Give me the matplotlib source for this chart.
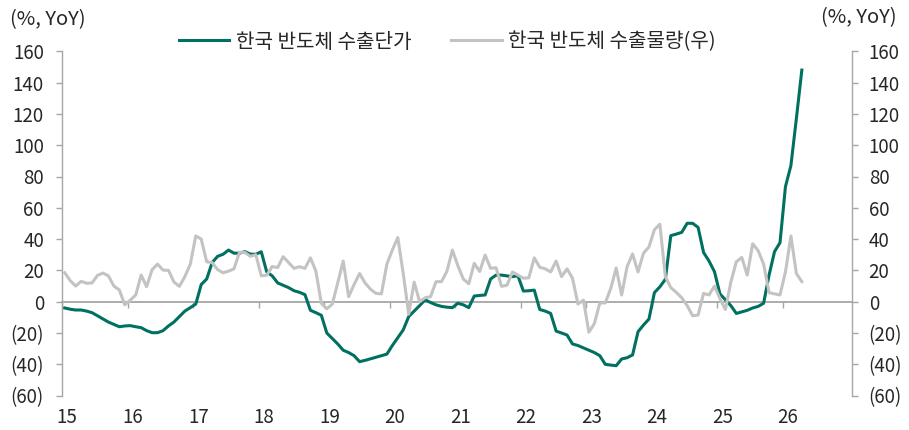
import numpy as np
import matplotlib
matplotlib.use('Agg')
import matplotlib.pyplot as plt

plt.rcParams['font.family'] = ['Noto Sans CJK KR', 'DejaVu Sans']

# ---- data (monthly, Jan 2015 - Apr 2026) ----
years = list(range(15, 27))
year_labels = [str(y) for y in years]
y_ticks = list(range(-60, 161, 20))

price_label = '한국 반도체 수출단가'
volume_label = '한국 반도체 수출물량(우)'

price = [-4, -4.8, -5.3, -5.3, -6, -7, -9, -11, -13, -14.5, -16, -15.5,
         -15.3, -16, -16.6, -18.5, -19.8, -19.8, -18.5, -15.5, -13, -9.5, -6, -3.8,
         -1.5, 11, 14.5, 25, 29, 30.3, 33, 31, 31, 32, 30.4, 30.3,
         31.9, 19, 16.5, 12, 10.5, 9, 7, 6, 4.5, -5.5, -7, -8.7,
         -20, -23.5, -27, -31, -32.5, -34.5, -38.3, -37.5, -36.5, -35.5, -34.5, -33.5,
         -28, -23, -18, -9.5, -6, -2.5, 1.2, -0.5, -2, -3, -3.5, -3.8,
         -1, -2, -3.8, 3.6, 4, 4.3, 14.5, 17, 17, 16.5, 16, 16.6,
         6.8, 7, 7.4, -5, -6, -7.5, -18.8, -20, -21.3, -27, -28, -29.5,
         -31, -32.5, -34.5, -40, -40.5, -40.9, -36.6, -35.8, -34, -19.2, -14.9, -11.1,
         5.8, 9.5, 14.3, 42.2, 43.2, 44.3, 50.1, 50.1, 47.5, 31.5, 26, 19.2,
         5, 1.3, -2.5, -7.5, -6.5, -5.5, -4, -3, -1, 17, 32, 37.7,
         73.5, 87, 117, 148]

volume = [18.5, 13.5, 10, 13, 11.8, 12, 16.8, 18.3, 16.5, 10, 7.5, -2,
          1, 4.3, 17, 9.6, 20.5, 24, 20.2, 20, 12.6, 9.8, 16, 24,
          42, 40, 25.5, 25, 20.5, 18.5, 19.5, 21, 31.5, 31.5, 29, 30,
          16.5, 17, 22.5, 21.8, 28.8, 25, 21.3, 22.4, 21.3, 28, 19.5, -1,
          -4.5, -1.6, 12, 26, 3.2, 11, 18, 12, 8, 5.3, 5, 24,
          33, 41, 18, -8, 12.5, 0, 2.5, 3.2, 12.8, 12.8, 19.5, 33,
          23, 14.5, 11.5, 24.5, 19.3, 29.8, 21.3, 21.7, 9.8, 10.5, 19, 17,
          15, 15.3, 28, 22, 21, 19, 26, 16, 21, 15, -1.5, 1,
          -19.5, -14, -0.8, -0.8, 8.5, 21.5, 4.3, 22.4, 30.5, 19, 31, 35,
          46, 49.5, 16, 9, 6, 2.5, -2.5, -9, -8.5, 5.3, 4.3, 10,
          2, -5, 12.5, 25.5, 28.3, 17, 37, 32.6, 24, 5.8, 5, 4.3,
          19, 42, 18, 12.8]

# month positions (plotted mid-month), in two-digit-year units
x = years[0] + (np.arange(len(price)) + 0.5) / 12.0

GREEN = '#007060'
GRAY = '#c3c3c3'
AXIS = '#a6a6a6'
TXT = '#262626'
FS = 13.5
FS_BIG = 14.5


def fmt(v):
    return f'({abs(v)})' if v < 0 else str(v)


fig = plt.figure(figsize=(9.09, 4.30), dpi=100)
ax = fig.add_axes([62 / 909, 1 - 395.6 / 430, 790 / 909, (395.6 - 51.3) / 430])
ax.set_xlim(15, 15 + 790 / 65.52)
ax.set_ylim(-60, 160)

l1, = ax.plot(x, price, color=GREEN, lw=2.2, label=price_label, zorder=3,
              solid_joinstyle='round')

# axes styling (left)
for s in ['top', 'right']:
    ax.spines[s].set_visible(False)
ax.spines['left'].set_color(AXIS)
ax.spines['left'].set_linewidth(1.0)
ax.spines['bottom'].set_position(('data', 0))
ax.spines['bottom'].set_color(AXIS)
ax.spines['bottom'].set_linewidth(1.3)
ax.spines['bottom'].set_zorder(1)
ax.set_yticks(y_ticks)
ax.set_yticklabels([fmt(v) for v in y_ticks])
ax.tick_params(axis='y', direction='out', length=4, width=1, color=AXIS,
               labelsize=FS, labelcolor=TXT, pad=9)
ax.set_xticks(years)
ax.tick_params(axis='x', direction='out', length=4, width=1, color=AXIS,
               labelbottom=False)

sec = ax.secondary_xaxis('bottom')
sec.set_xticks([y + 0.08 for y in years], labels=year_labels)
sec.tick_params(length=0, pad=8, labelsize=FS, labelcolor=TXT)
sec.spines['bottom'].set_visible(False)

# right axis
ax2 = ax.twinx()
ax2.set_ylim(-60, 160)
l2, = ax2.plot(x, volume, color=GRAY, lw=2.2, label=volume_label,
               solid_joinstyle='round')
for s in ['top', 'left', 'bottom']:
    ax2.spines[s].set_visible(False)
ax2.spines['right'].set_color(AXIS)
ax2.spines['right'].set_linewidth(1.0)
ax2.set_yticks(y_ticks)
ax2.set_yticklabels([fmt(v) for v in y_ticks])
ax2.tick_params(axis='y', direction='out', length=4, width=1, color=AXIS,
                labelsize=FS, labelcolor=TXT, pad=8)

fig.text(10 / 909, 1 - 20 / 430, '(%, YoY)', ha='left', va='center',
         fontsize=FS_BIG, color=TXT)
fig.text(897 / 909, 1 - 18 / 430, '(%, YoY)', ha='right', va='center',
         fontsize=FS_BIG, color=TXT)

fig.legend(handles=[l1, l2], loc='center', bbox_to_anchor=(0.492, 1 - 42 / 430),
           ncol=2, frameon=False, fontsize=FS_BIG, handlelength=2.5,
           handletextpad=0.3, columnspacing=2.0, labelcolor=TXT)

fig.savefig('out.png', dpi=100)
